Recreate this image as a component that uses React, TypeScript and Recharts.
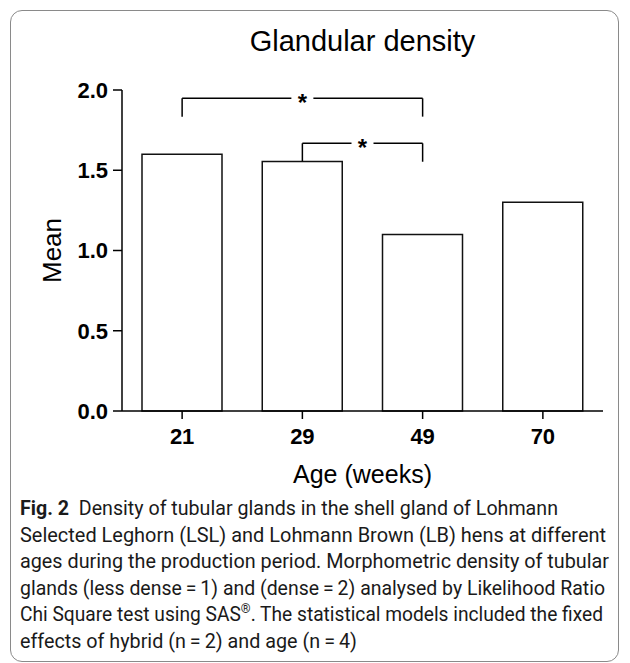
import { Bar, BarChart, XAxis, YAxis, ReferenceLine, Label } from 'recharts';

const ages = ['21', '29', '49', '70'];
const means = [1.6, 1.555, 1.1, 1.3];
const yTicks = [0, 0.5, 1, 1.5, 2];

// significance brackets (*)
const bracketFrom = ['21', '29'];
const bracketTo = ['49', '49'];
const bracketLevel = [1.948, 1.668];
const bracketLeftEnd = [1.834, 1.556];
const bracketRightEnd = [1.834, 1.553];

const captionLines = [
  'Density of tubular glands in the shell gland of Lohmann',
  'Selected Leghorn (LSL) and Lohmann Brown (LB) hens at different',
  'ages during the production period. Morphometric density of tubular',
  'glands (less dense\u2009=\u20091) and (dense\u2009=\u20092) analysed by Likelihood Ratio',
  'Chi Square test using SAS',
  'effects of hybrid (n\u2009=\u20092) and age (n\u2009=\u20094)',
];
const captionWidths = [538, 586, 589, 585, 583, 337];

const data = ages.map((age, i) => ({ age, mean: means[i] }));

const font = '"Liberation Sans", Arial, sans-serif';

const renderStar = (props: any) => {
  const vb = props.viewBox;
  if (!vb) return null;
  const cx = vb.x + (vb.width || 0) / 2;
  const cy = vb.y + (vb.height || 0) / 2;
  return (
    <g>
      <rect x={cx - 11} y={cy - 3} width={22} height={6} fill="#fff" />
      <text x={cx} y={cy + 13} textAnchor="middle" fontSize={24} fontWeight="bold" fontFamily={font} fill="#000">
        *
      </text>
    </g>
  );
};

export default function App() {
  return (
    <div style={{ position: 'absolute', left: 0, top: 0, width: 630, height: 663, background: '#fff', overflow: 'hidden' }}>
      <div
        style={{
          position: 'absolute',
          left: 10,
          top: 10,
          width: 609,
          height: 652,
          boxSizing: 'border-box',
          border: '1.5px solid #8a8a8a',
          borderRadius: 12,
        }}
      />
      <div
        style={{
          position: 'absolute',
          left: 122,
          width: 481,
          top: 27,
          textAlign: 'center',
          fontFamily: font,
          fontSize: 29,
          lineHeight: '29px',
          color: '#000',
        }}
      >
        Glandular density
      </div>
      <div style={{ position: 'absolute', left: 0, top: 0 }}>
        <BarChart width={630} height={500} data={data} margin={{ top: 90, right: 27, left: 10, bottom: 49 }}>
          <XAxis
            dataKey="age"
            interval={0}
            height={40}
            tickSize={8}
            tickMargin={9}
            stroke="#000"
            strokeWidth={1.5}
            tick={{ fill: '#000', fontSize: 22, fontWeight: 'bold', fontFamily: font }}
          >
            <Label value="Age (weeks)" position="bottom" offset={14} fill="#000" fontSize={25} fontFamily={font} />
          </XAxis>
          <YAxis
            domain={[0, 2]}
            ticks={yTicks}
            width={112}
            tickSize={9}
            tickMargin={5}
            stroke="#000"
            strokeWidth={1.5}
            tickFormatter={(v: number) => v.toFixed(1)}
            tick={{ fill: '#000', fontSize: 22, fontWeight: 'bold', fontFamily: font }}
          >
            <Label value="Mean" angle={-90} position="insideLeft" offset={42} style={{ textAnchor: 'middle' }} fill="#000" fontSize={26} fontFamily={font} />
          </YAxis>
          <Bar dataKey="mean" fill="#fff" stroke="#111" strokeWidth={1.5} barSize={80} isAnimationActive={false} />
          {bracketFrom.map((from, i) => (
            <ReferenceLine
              key={`h${i}`}
              segment={[{ x: from, y: bracketLevel[i] }, { x: bracketTo[i], y: bracketLevel[i] }]}
              stroke="#000"
              strokeWidth={1.5}
              ifOverflow="visible"
              label={renderStar}
            />
          ))}
          {bracketFrom.map((from, i) => (
            <ReferenceLine
              key={`l${i}`}
              segment={[{ x: from, y: bracketLevel[i] }, { x: from, y: bracketLeftEnd[i] }]}
              stroke="#000"
              strokeWidth={1.5}
              ifOverflow="visible"
            />
          ))}
          {bracketTo.map((to, i) => (
            <ReferenceLine
              key={`r${i}`}
              segment={[{ x: to, y: bracketLevel[i] }, { x: to, y: bracketRightEnd[i] }]}
              stroke="#000"
              strokeWidth={1.5}
              ifOverflow="visible"
            />
          ))}
        </BarChart>
      </div>
      <svg width={630} height={663} style={{ position: 'absolute', left: 0, top: 0 }}>
        {captionLines.map((line, i) => (
          <text
            key={i}
            x={20}
            y={515 + i * 26.5}
            fontFamily="Roboto, sans-serif"
            fontSize={20}
            fill="#1a1a1a"
            textLength={captionWidths[i]}
            lengthAdjust="spacingAndGlyphs"
          >
            {i === 0 && <tspan fontWeight="bold">{'Fig.\u00a02\u00a0\u00a0'}</tspan>}
            {line}
            {i === 4 && (
              <>
                <tspan dy={-8} fontSize={13}>®</tspan>
                <tspan dy={8}>. The statistical models included the fixed</tspan>
              </>
            )}
          </text>
        ))}
      </svg>
    </div>
  );
}
